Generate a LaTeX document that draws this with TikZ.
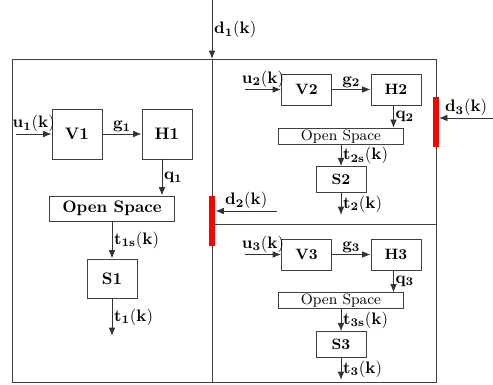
\documentclass[tikz,border=0pt]{standalone}
\usepackage{amsmath}
\usetikzlibrary{arrows.meta}

\begin{document}
\begin{tikzpicture}[x=0.6pt,y=-0.6pt,line width=0.55pt,
  box/.style={draw=black!75,inner sep=0pt,font=\bfseries},
  bigbox/.style={box,minimum width=30pt,minimum height=30pt},
  smallbox/.style={box,minimum width=30pt,minimum height=18.6pt,font=\small\bfseries},
  osbig/.style={box,minimum width=75pt,minimum height=15pt},
  ossmall/.style={box,minimum width=75pt,minimum height=9.6pt,font=\small},
  sbig/.style={box,minimum width=30pt,minimum height=23.4pt},
  ssmall/.style={box,minimum width=30pt,minimum height=15.3pt,font=\small\bfseries},
  bar/.style={fill=red,draw=none,minimum width=3.6pt,minimum height=30pt,inner sep=0pt},
  frame/.style={draw=black!75},
  sig/.style={draw=black!80,-{Latex[length=5pt,width=4pt]}},
  lbl/.style={inner sep=1pt}]
  \useasboundingbox (0,0) rectangle (493,385);
  % Marc i divisions
  \draw[frame] (12,59) rectangle (436,382);
  \draw[frame] (212,59) -- (212,382);
  \draw[frame] (212,224) -- (436,224);
  % Zona 1
  \node[bigbox] (v1) at (77,134) {V1};
  \node[bigbox] (h1) at (167,134) {H1};
  \node[osbig] (os1) at (112,208.5) {Open Space};
  \node[sbig] (s1) at (112,278.5) {S1};
  \coordinate (u1) at (16,134);
  \coordinate (t1) at (112,336);
  \draw[sig] (u1) -- (v1) node[lbl,midway,above] {$\mathbf{u_1(k)}$};
  \draw[sig] (v1) -- (h1) node[lbl,midway,above] {$\mathbf{g_1}$};
  \draw[sig] ([xshift=-3pt]h1.south) -- ([xshift=-3pt]h1.south |- os1.north)
    node[lbl,midway,right] {$\mathbf{q_1}$};
  \draw[sig] (os1) -- (s1) node[lbl,midway,right] {$\mathbf{t_{1s}(k)}$};
  \draw[sig] (s1) -- (t1) node[lbl,midway,right] {$\mathbf{t_1(k)}$};
  % Zona 2
  \node[smallbox] (v2) at (306.5,89.5) {V2};
  \node[smallbox] (h2) at (396,89.5) {H2};
  \node[ossmall] (os2) at (341,136.3) {Open Space};
  \node[ssmall] (s2) at (341,179.5) {S2};
  \coordinate (u2) at (245,89.5);
  \coordinate (t2) at (341,215);
  \draw[sig] (u2) -- (v2) node[lbl,midway,above] {$\mathbf{u_2(k)}$};
  \draw[sig] (v2) -- (h2) node[lbl,midway,above] {$\mathbf{g_2}$};
  \draw[sig] ([xshift=-1.5pt]h2.south) -- ([xshift=-1.5pt]h2.south |- os2.north)
    node[lbl,midway,right] {$\mathbf{q_2}$};
  \draw[sig] (os2) -- (s2) node[lbl,midway,right] {$\mathbf{t_{2s}(k)}$};
  \draw[sig] (s2) -- (t2) node[lbl,midway,right] {$\mathbf{t_2(k)}$};
  % Zona 3
  \node[smallbox] (v3) at (306.5,254.5) {V3};
  \node[smallbox] (h3) at (396,254.5) {H3};
  \node[ossmall] (os3) at (341,300.8) {Open Space};
  \node[ssmall] (s3) at (341,344.5) {S3};
  \coordinate (u3) at (245,254.5);
  \coordinate (t3) at (341,380);
  \draw[sig] (u3) -- (v3) node[lbl,midway,above] {$\mathbf{u_3(k)}$};
  \draw[sig] (v3) -- (h3) node[lbl,midway,above] {$\mathbf{g_3}$};
  \draw[sig] ([xshift=-1.5pt]h3.south) -- ([xshift=-1.5pt]h3.south |- os3.north)
    node[lbl,midway,right] {$\mathbf{q_3}$};
  \draw[sig] (os3) -- (s3) node[lbl,midway,right] {$\mathbf{t_{3s}(k)}$};
  \draw[sig] (s3) -- (t3) node[lbl,midway,right] {$\mathbf{t_3(k)}$};
  % Pertorbacions
  \node[bar] (bar2) at (212,221) {};
  \node[bar,minimum width=3.2pt] (bar3) at (436,122) {};
  \coordinate (d1) at (212,0);
  \coordinate (d1in) at (212,59);
  \coordinate (d2) at (277,211);
  \coordinate (d3) at (493,118);
  \draw[sig] (d1) -- (d1in) node[lbl,midway,right] {$\mathbf{d_1(k)}$};
  \draw[sig] (d2) -- (d2 -| bar2.east) node[lbl,midway,above] {$\mathbf{d_2(k)}$};
  \draw[sig] (d3) -- (d3 -| bar3.east) node[lbl,midway,above] {$\mathbf{d_3(k)}$};
\end{tikzpicture}
\end{document}
